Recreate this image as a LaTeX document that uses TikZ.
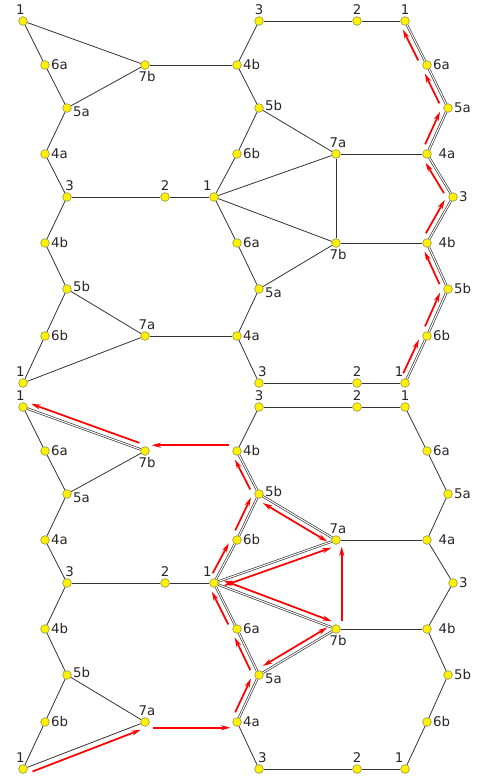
\documentclass[tikz,border=0pt]{standalone}
\usepackage{fontspec}
\setmainfont{DejaVu Sans}
\usetikzlibrary{arrows.meta,calc}

\tikzset{
  vertex/.style={circle, draw=black!50!yellow, line width=0.4pt, fill=yellow, minimum size=6.5pt, inner sep=0pt},
  link/.style={draw=black!80, line width=0.6pt},
  walked/.style={draw=black!80, line width=0.5pt, double=white, double distance=0.8pt},
  trail/.style={draw=red, line width=1.3pt, -{Stealth[length=7pt,width=3.8pt]}, shorten <=6pt, shorten >=5pt},
  trail2/.style={trail, {Stealth[length=7pt,width=3.8pt]}-{Stealth[length=7pt,width=3.8pt]}},
  aside/.style={to path={($(\tikztostart)!#1!90:(\tikztotarget)$) -- ($(\tikztotarget)!#1!-90:(\tikztostart)$)}},
  every label/.style={inner sep=1pt, font=\fontsize{10pt}{12pt}\selectfont, text=black!85}
}

\begin{document}
\begin{tikzpicture}[x=0.75pt, y=-0.75pt]
  \useasboundingbox (0,0) rectangle (478,779);

  % two copies of the same graph, one above the other
  \foreach \h/\off in {t/0,b/386}{
    % left part
    \node[vertex, label={[xshift=-2pt]above:1}] (\h-L1) at (23,21+\off) {};
    \node[vertex, label=right:6a] (\h-L6a) at (45,65+\off) {};
    \node[vertex, label={[xshift=1.5pt]below:7b}] (\h-L7b) at (145,65+\off) {};
    \node[vertex, label={[yshift=-3pt]right:5a}] (\h-L5a) at (67,108+\off) {};
    \node[vertex, label=right:4a] (\h-L4a) at (45,154+\off) {};
    \node[vertex, label={[xshift=2pt]above:3}] (\h-L3) at (67,197+\off) {};
    \node[vertex, label=above:2] (\h-L2) at (165,197+\off) {};
    \node[vertex, label={[xshift=-5pt]above:1}] (\h-M1) at (214,197+\off) {};
    \node[vertex, label=right:4b] (\h-L4b) at (45,243+\off) {};
    \node[vertex, label={[yshift=1.5pt]right:5b}] (\h-L5b) at (67,289+\off) {};
    \node[vertex, label=right:6b] (\h-L6b) at (45,336+\off) {};
    \node[vertex, label={[xshift=1.5pt]above:7a}] (\h-L7a) at (145,336+\off) {};
    \node[vertex, label={[xshift=-2pt]above:1}] (\h-L1x) at (23,383+\off) {};
    % middle part
    \node[vertex, label=above:3] (\h-M3) at (259,21+\off) {};
    \node[vertex, label=above:2] (\h-M2) at (357,21+\off) {};
    \node[vertex, label=above:1] (\h-R1) at (405,21+\off) {};
    \node[vertex, label=right:4b] (\h-M4b) at (237,65+\off) {};
    \node[vertex, label={[yshift=2pt]right:5b}] (\h-M5b) at (259,108+\off) {};
    \node[vertex, label=right:6b] (\h-M6b) at (237,154+\off) {};
    \node[vertex, label={[xshift=1.5pt]above:7a}] (\h-M7a) at (336,154+\off) {};
    \node[vertex, label=right:6a] (\h-M6a) at (237,243+\off) {};
    \node[vertex, label={[xshift=1.5pt]below:7b}] (\h-M7b) at (336,243+\off) {};
    \node[vertex, label={[yshift=-3pt]right:5a}] (\h-M5a) at (259,289+\off) {};
    \node[vertex, label=right:4a] (\h-M4a) at (237,336+\off) {};
    \node[vertex, label={[xshift=2.5pt]above:3}] (\h-M3x) at (259,383+\off) {};
    \node[vertex, label=above:2] (\h-M2x) at (357,383+\off) {};
    \node[vertex, label={[xshift=-4.5pt]above:1}] (\h-R1x) at (405,383+\off) {};
    % right part
    \node[vertex, label=right:6a] (\h-R6a) at (427,65+\off) {};
    \node[vertex, label=right:5a] (\h-R5a) at (448,108+\off) {};
    \node[vertex, label={[label distance=4pt]right:4a}] (\h-R4a) at (427,154+\off) {};
    \node[vertex, label=right:3] (\h-R3) at (453,197+\off) {};
    \node[vertex, label={[label distance=4pt]right:4b}] (\h-R4b) at (427,243+\off) {};
    \node[vertex, label=right:5b] (\h-R5b) at (448,289+\off) {};
    \node[vertex, label=right:6b] (\h-R6b) at (427,336+\off) {};

    \foreach \a/\b in {L1/L6a, L6a/L5a, L5a/L4a, L4a/L3, L3/L4b, L4b/L5b, L5b/L6b, L6b/L1x,
                       L1/L7b, L5a/L7b, L7b/M4b, L5b/L7a, L1x/L7a, L7a/M4a, L3/L2, L2/M1,
                       M3/M4b, M4b/M5b, M5b/M6b, M6b/M1, M1/M6a, M6a/M5a, M5a/M4a, M4a/M3x,
                       M3/M2, M2/R1, M3x/M2x, M2x/R1x,
                       M5b/M7a, M1/M7a, M1/M7b, M5a/M7b, M7a/M7b, M7a/R4a, M7b/R4b,
                       R1/R6a, R6a/R5a, R5a/R4a, R4a/R3, R3/R4b, R4b/R5b, R5b/R6b, R6b/R1x}
      \draw[link] (\h-\a) -- (\h-\b);
  }

  % walked edges
  \foreach \a/\b in {R1x/R6b, R6b/R5b, R5b/R4b, R4b/R3, R3/R4a, R4a/R5a, R5a/R6a, R6a/R1}
    \draw[walked] (t-\a) -- (t-\b);
  \foreach \a/\b in {L7a/M4a, M4a/M5a, M5a/M6a, M6a/M1, M1/M7a, M1/M7b, M5b/M7a, M5a/M7b,
                     M7a/M7b, M1/M6b, M6b/M5b, M5b/M4b, M4b/L7b, L7b/L1}
    \draw[walked] (b-\a) -- (b-\b);

  % red arrows, upper copy
  \foreach \a/\b in {R1x/R6b, R6b/R5b, R5b/R4b, R4b/R3, R3/R4a, R4a/R5a, R5a/R6a, R6a/R1}
    \draw[trail] (t-\a) to[aside=4.3pt] (t-\b);

  % red arrows, lower copy
  \foreach \a/\b/\s in {L1x/L7a/-4.3pt, L7a/M4a/-4.3pt, M4a/M5a/4.3pt, M5a/M6a/4.3pt,
                        M6a/M1/4.3pt, M7b/M7a/-4.3pt, M1/M6b/4.3pt, M6b/M5b/4.3pt,
                        M5b/M4b/4.3pt, M4b/L7b/-4.3pt, L7b/L1/-4.3pt}
    \draw[trail] (b-\a) to[aside=\s] (b-\b);
  \foreach \a/\b/\s in {M1/M7b/4.3pt, M1/M7a/-4.3pt, M5b/M7a/-4.3pt, M5a/M7b/4.3pt}
    \draw[trail2] (b-\a) to[aside=\s] (b-\b);
\end{tikzpicture}
\end{document}
